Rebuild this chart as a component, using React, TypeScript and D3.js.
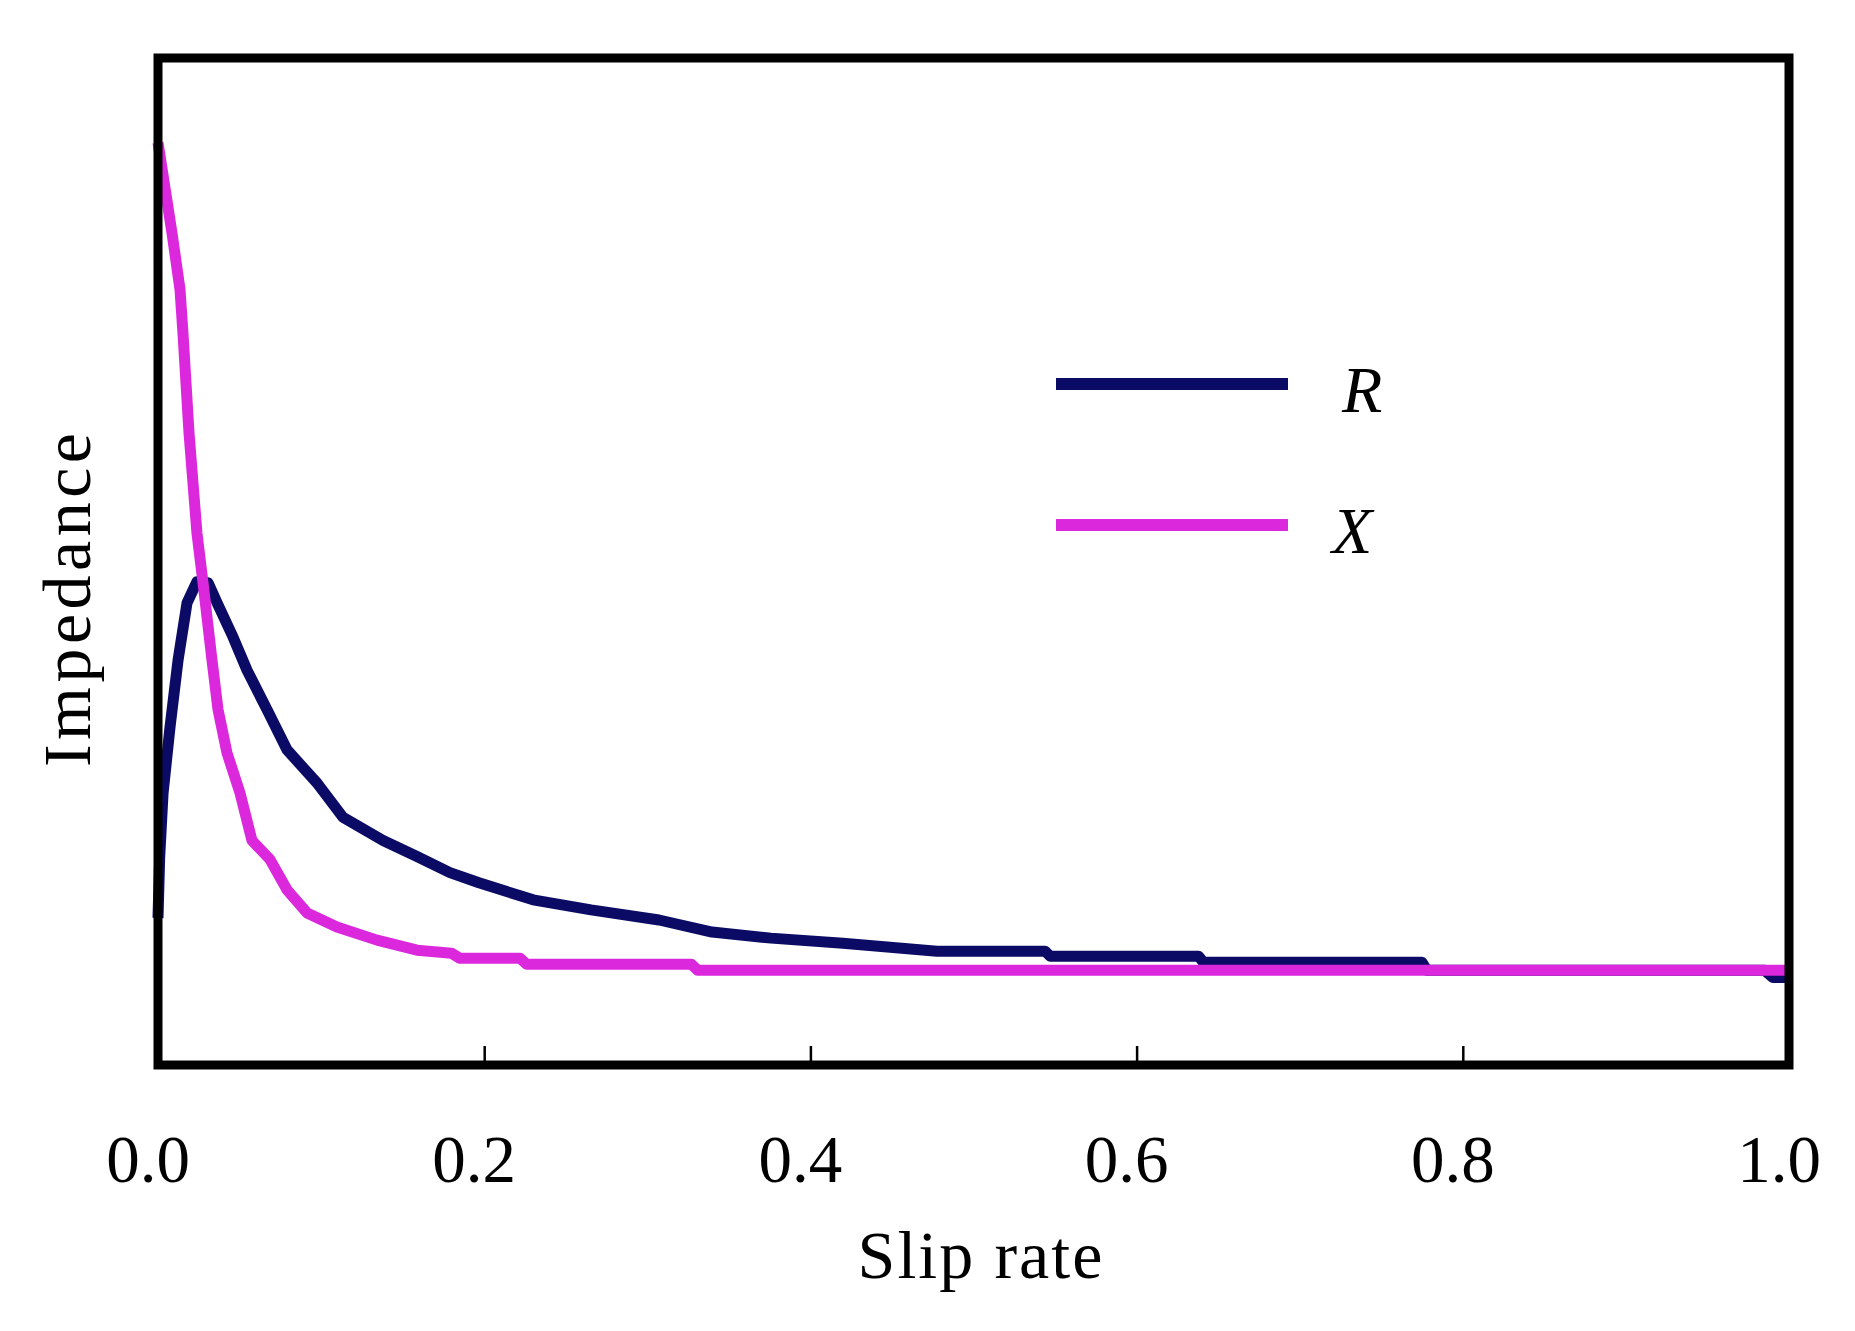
import React, { useEffect, useRef } from 'react';
import * as d3 from 'd3';

// slip rate / impedance points (arbitrary impedance units)
const rSlip = [0, 0.001, 0.0031, 0.0074, 0.0123, 0.0178, 0.0239, 0.0307, 0.0362, 0.046, 0.0546, 0.0668, 0.0791, 0.0975, 0.1134, 0.138, 0.1588, 0.179, 0.1968, 0.23, 0.2655, 0.3072, 0.3397, 0.3758, 0.42, 0.4776, 0.544, 0.547, 0.638, 0.641, 0.775, 0.778, 0.985, 0.99, 1.0];
const rValue = [14.6, 20.5, 27.0, 33.6, 40.2, 45.9, 48.0, 47.9, 45.9, 42.5, 39.2, 35.3, 31.3, 28.0, 24.6, 22.3, 20.7, 19.1, 18.1, 16.4, 15.4, 14.4, 13.2, 12.6, 12.1, 11.3, 11.3, 10.8, 10.8, 10.2, 10.2, 9.4, 9.4, 8.7, 8.7];

const xSlip = [0, 0.0086, 0.0135, 0.0153, 0.019, 0.0239, 0.0276, 0.0331, 0.0368, 0.0423, 0.0503, 0.0576, 0.0687, 0.0791, 0.0914, 0.1097, 0.1343, 0.1588, 0.18, 0.185, 0.222, 0.226, 0.327, 0.331, 1.0];
const xValue = [91.6, 82.6, 77.0, 72.7, 62.8, 52.8, 47.9, 40.2, 35.3, 31.0, 27.0, 22.3, 20.4, 17.4, 15.1, 13.7, 12.4, 11.4, 11.1, 10.6, 10.6, 10.0, 10.0, 9.4, 9.4];

const tickValues = [0, 0.2, 0.4, 0.6, 0.8, 1.0];
const seriesNames = ['R', 'X'];
const seriesColors = ['#0b0b66', '#dc28dc'];

const App: React.FC = () => {
    const ref = useRef<SVGSVGElement>(null);

    useEffect(() => {
        const svg = d3.select(ref.current);
        svg.selectAll('*').remove();

        const left = 158, right = 1789, top = 58, bottom = 1065;
        const x = d3.scaleLinear().domain([0, 1]).range([left, right]);
        const y = d3.scaleLinear().domain([0, 100]).range([bottom, top]);
        const font = '"Liberation Serif", "Times New Roman", serif';

        svg.append('rect')
            .attr('width', 1855).attr('height', 1331).attr('fill', '#fff');

        // curves
        const line = d3.line<[number, number]>()
            .x(d => x(d[0]))
            .y(d => y(d[1]));

        const series = [
            d3.zip(rSlip, rValue) as [number, number][],
            d3.zip(xSlip, xValue) as [number, number][],
        ];
        series.forEach((pts, i) => {
            svg.append('path')
                .attr('d', line(pts))
                .attr('fill', 'none')
                .attr('stroke', seriesColors[i])
                .attr('stroke-width', 11)
                .attr('stroke-linejoin', 'round');
        });

        // ticks pointing into the plot
        const axis = d3.axisBottom(x).tickValues(tickValues).tickSize(-19).tickFormat(() => '');
        const ax = svg.append('g')
            .attr('transform', `translate(0, ${bottom})`)
            .call(axis);
        ax.select('.domain').remove();
        ax.selectAll('line').attr('stroke', '#000').attr('stroke-width', 2.5);

        svg.selectAll('text.tick-label')
            .data(tickValues)
            .enter()
            .append('text')
            .attr('class', 'tick-label')
            .attr('x', d => x(d) - 10)
            .attr('y', 1182)
            .attr('text-anchor', 'middle')
            .style('font-family', font)
            .style('font-size', '67px')
            .text(d => d3.format('.1f')(d));

        // frame
        svg.append('rect')
            .attr('x', left).attr('y', top)
            .attr('width', right - left).attr('height', bottom - top)
            .attr('fill', 'none')
            .attr('stroke', '#000')
            .attr('stroke-width', 9);

        // axis titles
        svg.append('text')
            .attr('x', 980)
            .attr('y', 1278)
            .attr('text-anchor', 'middle')
            .attr('textLength', 245)
            .style('font-family', font)
            .style('font-size', '68px')
            .text('Slip rate');

        svg.append('text')
            .attr('transform', 'translate(90, 600) rotate(-90)')
            .attr('text-anchor', 'middle')
            .attr('textLength', 334)
            .style('font-family', font)
            .style('font-size', '68px')
            .text('Impedance');

        // legend
        const legendY = [384, 525];
        const labelX = [1342, 1332];
        seriesNames.forEach((name, i) => {
            svg.append('line')
                .attr('x1', 1056).attr('x2', 1288)
                .attr('y1', legendY[i]).attr('y2', legendY[i])
                .attr('stroke', seriesColors[i])
                .attr('stroke-width', 12);
            svg.append('text')
                .attr('x', labelX[i])
                .attr('y', legendY[i] + 28)
                .style('font-family', font)
                .style('font-style', 'italic')
                .style('font-size', '66px')
                .text(name);
        });
    }, []);

    return (
        <svg
            ref={ref}
            width={1855}
            height={1331}
            style={{ position: 'absolute', left: 0, top: 0, display: 'block' }}
        />
    );
};

export default App;
